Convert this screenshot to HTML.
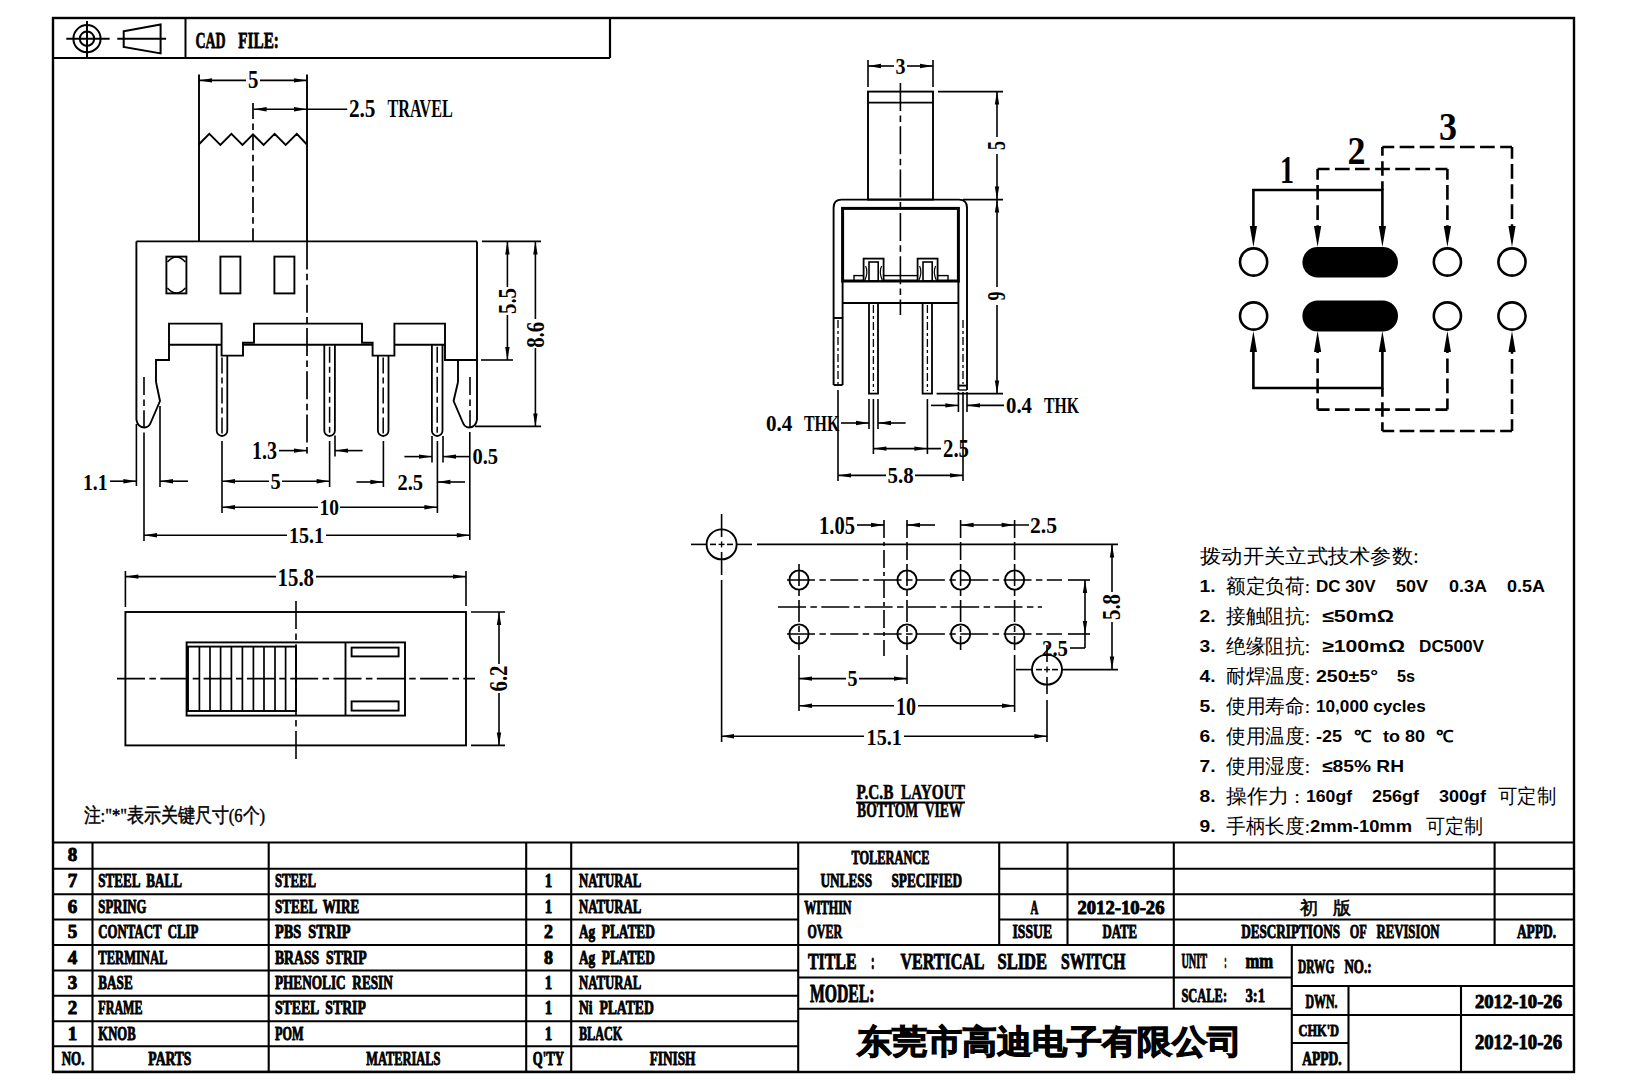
<!DOCTYPE html>
<html><head><meta charset="utf-8"><title>Vertical Slide Switch drawing</title>
<style>
html,body{margin:0;padding:0;background:#fff;width:1630px;height:1087px;overflow:hidden}
svg{display:block}
svg text{fill:#000;white-space:pre}
</style></head><body>
<svg width="1630" height="1087" viewBox="0 0 1630 1087" stroke="#000" fill="none" stroke-linecap="butt" stroke-linejoin="miter">
<rect x="0" y="0" width="1630" height="1087" fill="#fff" stroke="none"/>
<rect x="53" y="18" width="1521" height="1054" stroke-width="2.4" fill="none"/>
<line x1="53" y1="58" x2="610" y2="58" stroke-width="2.2"/>
<line x1="610" y1="18" x2="610" y2="58" stroke-width="2.2"/>
<line x1="185.5" y1="18" x2="185.5" y2="58" stroke-width="2"/>
<circle cx="87" cy="38.7" r="13.6" stroke-width="2" fill="none"/>
<circle cx="87" cy="38.7" r="7.2" stroke-width="2" fill="none"/>
<line x1="66.3" y1="38.7" x2="109.6" y2="38.7" stroke-width="2"/>
<line x1="87" y1="21" x2="87" y2="57" stroke-width="2"/>
<polygon points="123.7,31.3 160.6,24.5 160.6,53.4 123.7,46.9" stroke-width="2" fill="none"/>
<line x1="117.3" y1="38.7" x2="166.1" y2="38.7" stroke-width="2"/>
<text x="195.4" y="47.8" font-size="23.51" font-family='"Liberation Serif", serif' text-anchor="start" font-weight="bold" textLength="30.2" lengthAdjust="spacingAndGlyphs" stroke="#000" stroke-width="0.8" stroke-linejoin="round">CAD</text>
<text x="238.3" y="47.8" font-size="23.51" font-family='"Liberation Serif", serif' text-anchor="start" font-weight="bold" textLength="40.6" lengthAdjust="spacingAndGlyphs" stroke="#000" stroke-width="0.8" stroke-linejoin="round">FILE:</text>
<polyline points="198.7,144.5 209.3,133.8 220.4,144.9 231.4,133.8 242.5,144.9 253,134.4 263.6,144.9 274.6,133.8 285.7,144.9 296.8,133.8 306.9,144.5" stroke-width="1.9" fill="none"/>
<line x1="199" y1="74.5" x2="199" y2="241.4" stroke-width="1.9"/>
<line x1="307" y1="74.5" x2="307" y2="241.4" stroke-width="1.9"/>
<line x1="253" y1="103" x2="253" y2="241.4" stroke-width="1.7" stroke-dasharray="16 4.4 6.5 4.4"/>
<line x1="199" y1="80.4" x2="246" y2="80.4" stroke-width="1.6"/>
<line x1="260" y1="80.4" x2="307" y2="80.4" stroke-width="1.6"/>
<polygon points="199,80.4 212,78.2 212,82.6" fill="#000" stroke="none"/>
<polygon points="307,80.4 294,78.2 294,82.6" fill="#000" stroke="none"/>
<text x="248" y="88.3" font-size="24.27" font-family='"Liberation Serif", serif' text-anchor="start" font-weight="bold" textLength="10.4" lengthAdjust="spacingAndGlyphs" stroke="none">5</text>
<line x1="253.6" y1="109.3" x2="347.2" y2="109.3" stroke-width="1.6"/>
<polygon points="253.6,109.3 266.6,107.1 266.6,111.5" fill="#000" stroke="none"/>
<polygon points="307,109.3 294,107.1 294,111.5" fill="#000" stroke="none"/>
<text x="348.9" y="117.2" font-size="24.43" font-family='"Liberation Serif", serif' text-anchor="start" font-weight="bold" textLength="26.6" lengthAdjust="spacingAndGlyphs" stroke="none">2.5</text>
<text x="387.6" y="117.2" font-size="24.43" font-family='"Liberation Serif", serif' text-anchor="start" font-weight="bold" textLength="65.2" lengthAdjust="spacingAndGlyphs" stroke="none">TRAVEL</text>
<line x1="136.4" y1="241.4" x2="477" y2="241.4" stroke-width="1.9"/>
<line x1="136.4" y1="241.4" x2="136.4" y2="420" stroke-width="1.9"/>
<line x1="477" y1="241.4" x2="477" y2="420" stroke-width="1.9"/>
<rect x="166.4" y="256.6" width="20" height="36.8" stroke-width="1.9" fill="none"/>
<path d="M167.4,262 Q176.4,252 185.4,262 M167.4,288 Q176.4,298 185.4,288" stroke-width="1.5" fill="none"/>
<rect x="220.4" y="256.6" width="20" height="36.8" stroke-width="1.9" fill="none"/>
<rect x="274.4" y="256.6" width="20" height="36.8" stroke-width="1.9" fill="none"/>
<line x1="307" y1="241.4" x2="307" y2="457" stroke-width="1.7" stroke-dasharray="28 4.4 6.5 4.4"/>
<polyline points="156,382 156,360 169,360 169,323.6 221.6,323.6 221.6,355.6 243,355.6 243,342.8 254,342.8 254,323.6 362,323.6 362,342.8 372.6,342.8 372.6,355.6 394.4,355.6 394.4,323.6 445,323.6 445,360 477,360" stroke-width="1.9" fill="none"/>
<line x1="458" y1="360" x2="458" y2="382" stroke-width="1.9"/>
<line x1="169" y1="344.8" x2="221.6" y2="344.8" stroke-width="1.9"/>
<line x1="243" y1="344.8" x2="372.6" y2="344.8" stroke-width="1.9"/>
<line x1="394.4" y1="344.8" x2="445" y2="344.8" stroke-width="1.9"/>
<path d="M216.7,344.8 L216.7,430.7 A5.3,5.3 0 0 0 227.3,430.7 L227.3,355.6" stroke-width="1.8" fill="none"/>
<line x1="222" y1="357.6" x2="222" y2="434" stroke-width="1.5" stroke-dasharray="16 4 6 4"/>
<path d="M324.3,344.8 L324.3,430.7 A5.3,5.3 0 0 0 334.9,430.7 L334.9,344.8" stroke-width="1.8" fill="none"/>
<line x1="329.6" y1="346.8" x2="329.6" y2="434" stroke-width="1.5" stroke-dasharray="16 4 6 4"/>
<path d="M377.9,355.6 L377.9,430.7 A5.3,5.3 0 0 0 388.5,430.7 L388.5,355.6" stroke-width="1.8" fill="none"/>
<line x1="383.2" y1="357.6" x2="383.2" y2="434" stroke-width="1.5" stroke-dasharray="16 4 6 4"/>
<path d="M431.9,344.8 L431.9,430.7 A5.3,5.3 0 0 0 442.5,430.7 L442.5,344.8" stroke-width="1.8" fill="none"/>
<line x1="437.2" y1="346.8" x2="437.2" y2="434" stroke-width="1.5" stroke-dasharray="16 4 6 4"/>
<path d="M136.4,420 Q138,427.5 144.5,427.5 Q149,427.5 151,422 L160,401 L156,382" stroke-width="1.9" fill="none"/>
<path d="M477,420 Q475.4,427.5 469,427.5 Q464.6,427.5 462.6,422 L453.6,401 L458,382" stroke-width="1.9" fill="none"/>
<line x1="144" y1="377" x2="144" y2="428" stroke-width="1.6" stroke-dasharray="18 4.4 6.5 4.4"/>
<line x1="470" y1="377" x2="470" y2="428" stroke-width="1.6" stroke-dasharray="18 4.4 6.5 4.4"/>
<line x1="136.4" y1="424" x2="136.4" y2="486" stroke-width="1.6"/>
<line x1="160" y1="406" x2="160" y2="487" stroke-width="1.6"/>
<line x1="110" y1="481.2" x2="136.4" y2="481.2" stroke-width="1.6"/>
<polygon points="136.4,481.2 123.4,479 123.4,483.4" fill="#000" stroke="none"/>
<line x1="160" y1="481.2" x2="188" y2="481.2" stroke-width="1.6"/>
<polygon points="160,481.2 173,479 173,483.4" fill="#000" stroke="none"/>
<text x="83" y="489.6" font-size="23.21" font-family='"Liberation Serif", serif' text-anchor="start" font-weight="bold" textLength="24.6" lengthAdjust="spacingAndGlyphs" stroke="none">1.1</text>
<line x1="144" y1="432.6" x2="144" y2="541" stroke-width="1.6"/>
<line x1="469.8" y1="432" x2="469.8" y2="540" stroke-width="1.6"/>
<line x1="144" y1="535.2" x2="287" y2="535.2" stroke-width="1.6"/>
<line x1="326" y1="535.2" x2="469.8" y2="535.2" stroke-width="1.6"/>
<polygon points="144,535.2 157,533 157,537.4" fill="#000" stroke="none"/>
<polygon points="469.8,535.2 456.8,533 456.8,537.4" fill="#000" stroke="none"/>
<text x="289" y="543" font-size="23.82" font-family='"Liberation Serif", serif' text-anchor="start" font-weight="bold" textLength="35" lengthAdjust="spacingAndGlyphs" stroke="none">15.1</text>
<line x1="222" y1="441" x2="222" y2="513" stroke-width="1.6"/>
<line x1="329.6" y1="441" x2="329.6" y2="487" stroke-width="1.6"/>
<line x1="383.4" y1="441" x2="383.4" y2="487" stroke-width="1.6"/>
<line x1="437.4" y1="441" x2="437.4" y2="513" stroke-width="1.6"/>
<line x1="222" y1="481.2" x2="269" y2="481.2" stroke-width="1.6"/>
<line x1="282" y1="481.2" x2="329.6" y2="481.2" stroke-width="1.6"/>
<polygon points="222,481.2 235,479 235,483.4" fill="#000" stroke="none"/>
<polygon points="329.6,481.2 316.6,479 316.6,483.4" fill="#000" stroke="none"/>
<text x="270.4" y="489" font-size="23.51" font-family='"Liberation Serif", serif' text-anchor="start" font-weight="bold" textLength="10.2" lengthAdjust="spacingAndGlyphs" stroke="none">5</text>
<line x1="222" y1="507.2" x2="318" y2="507.2" stroke-width="1.6"/>
<line x1="340" y1="507.2" x2="437.4" y2="507.2" stroke-width="1.6"/>
<polygon points="222,507.2 235,505 235,509.4" fill="#000" stroke="none"/>
<polygon points="437.4,507.2 424.4,505 424.4,509.4" fill="#000" stroke="none"/>
<text x="319.6" y="515" font-size="23.82" font-family='"Liberation Serif", serif' text-anchor="start" font-weight="bold" textLength="19.4" lengthAdjust="spacingAndGlyphs" stroke="none">10</text>
<line x1="335" y1="435.6" x2="335" y2="456.6" stroke-width="1.6"/>
<line x1="279" y1="450.6" x2="307" y2="450.6" stroke-width="1.6"/>
<polygon points="307,450.6 294,448.4 294,452.8" fill="#000" stroke="none"/>
<line x1="335" y1="450.6" x2="362.6" y2="450.6" stroke-width="1.6"/>
<polygon points="335,450.6 348,448.4 348,452.8" fill="#000" stroke="none"/>
<text x="252" y="459.4" font-size="25.04" font-family='"Liberation Serif", serif' text-anchor="start" font-weight="bold" textLength="25" lengthAdjust="spacingAndGlyphs" stroke="none">1.3</text>
<line x1="356.4" y1="482" x2="383.4" y2="482" stroke-width="1.6"/>
<polygon points="383.4,482 370.4,479.8 370.4,484.2" fill="#000" stroke="none"/>
<line x1="437.4" y1="482" x2="465" y2="482" stroke-width="1.6"/>
<polygon points="437.4,482 450.4,479.8 450.4,484.2" fill="#000" stroke="none"/>
<text x="397.4" y="490.4" font-size="23.51" font-family='"Liberation Serif", serif' text-anchor="start" font-weight="bold" textLength="25.6" lengthAdjust="spacingAndGlyphs" stroke="none">2.5</text>
<line x1="432" y1="436" x2="432" y2="462.4" stroke-width="1.6"/>
<line x1="443" y1="436" x2="443" y2="462.4" stroke-width="1.6"/>
<line x1="404.4" y1="456.6" x2="432" y2="456.6" stroke-width="1.6"/>
<polygon points="432,456.6 419,454.4 419,458.8" fill="#000" stroke="none"/>
<line x1="443" y1="456.6" x2="469.6" y2="456.6" stroke-width="1.6"/>
<polygon points="443,456.6 456,454.4 456,458.8" fill="#000" stroke="none"/>
<text x="472.4" y="464.4" font-size="23.51" font-family='"Liberation Serif", serif' text-anchor="start" font-weight="bold" textLength="25.6" lengthAdjust="spacingAndGlyphs" stroke="none">0.5</text>
<line x1="482" y1="241.4" x2="541" y2="241.4" stroke-width="1.6"/>
<line x1="481" y1="360" x2="513" y2="360" stroke-width="1.6"/>
<line x1="475" y1="426.4" x2="541" y2="426.4" stroke-width="1.6"/>
<line x1="507.4" y1="241.4" x2="507.4" y2="287" stroke-width="1.6"/>
<line x1="507.4" y1="315" x2="507.4" y2="360" stroke-width="1.6"/>
<polygon points="507.4,241.4 505.2,254.4 509.6,254.4" fill="#000" stroke="none"/>
<polygon points="507.4,360 505.2,347 509.6,347" fill="#000" stroke="none"/>
<text x="515.85" y="301" font-size="25.19" font-family='"Liberation Serif", serif' text-anchor="middle" font-weight="bold" textLength="26" lengthAdjust="spacingAndGlyphs" transform="rotate(-90 515.85 301)" dominant-baseline="auto" stroke="none">5.5</text>
<line x1="535.4" y1="241.4" x2="535.4" y2="319" stroke-width="1.6"/>
<line x1="535.4" y1="348" x2="535.4" y2="426.4" stroke-width="1.6"/>
<polygon points="535.4,241.4 533.2,254.4 537.6,254.4" fill="#000" stroke="none"/>
<polygon points="535.4,426.4 533.2,413.4 537.6,413.4" fill="#000" stroke="none"/>
<text x="543.85" y="334.8" font-size="25.19" font-family='"Liberation Serif", serif' text-anchor="middle" font-weight="bold" textLength="26" lengthAdjust="spacingAndGlyphs" transform="rotate(-90 543.85 334.8)" dominant-baseline="auto" stroke="none">8.6</text>
<line x1="125.4" y1="571" x2="125.4" y2="607" stroke-width="1.6"/>
<line x1="466" y1="571" x2="466" y2="606" stroke-width="1.6"/>
<line x1="125.4" y1="576.6" x2="276" y2="576.6" stroke-width="1.6"/>
<line x1="316" y1="576.6" x2="466" y2="576.6" stroke-width="1.6"/>
<polygon points="125.4,576.6 138.4,574.4 138.4,578.8" fill="#000" stroke="none"/>
<polygon points="466,576.6 453,574.4 453,578.8" fill="#000" stroke="none"/>
<text x="277.6" y="585.6" font-size="24.43" font-family='"Liberation Serif", serif' text-anchor="start" font-weight="bold" textLength="36.4" lengthAdjust="spacingAndGlyphs" stroke="none">15.8</text>
<rect x="125.4" y="612" width="340.6" height="133.4" stroke-width="1.9" fill="none"/>
<line x1="296" y1="601" x2="296" y2="762" stroke-width="1.6" stroke-dasharray="28 4.4 6.5 4.4"/>
<line x1="117" y1="678.6" x2="475" y2="678.6" stroke-width="1.6" stroke-dasharray="28 4.4 6.5 4.4"/>
<rect x="186.6" y="642.4" width="218.4" height="73.2" stroke-width="1.9" fill="none"/>
<rect x="188" y="646.6" width="108" height="64.4" stroke-width="1.9" fill="none"/>
<line x1="199.4" y1="646.6" x2="199.4" y2="711" stroke-width="1.7"/>
<line x1="210" y1="646.6" x2="210" y2="711" stroke-width="1.7"/>
<line x1="220.6" y1="646.6" x2="220.6" y2="711" stroke-width="1.7"/>
<line x1="231.4" y1="646.6" x2="231.4" y2="711" stroke-width="1.7"/>
<line x1="242.4" y1="646.6" x2="242.4" y2="711" stroke-width="1.7"/>
<line x1="253.4" y1="646.6" x2="253.4" y2="711" stroke-width="1.7"/>
<line x1="264" y1="646.6" x2="264" y2="711" stroke-width="1.7"/>
<line x1="275" y1="646.6" x2="275" y2="711" stroke-width="1.7"/>
<line x1="285.6" y1="646.6" x2="285.6" y2="711" stroke-width="1.7"/>
<line x1="345.5" y1="642.4" x2="345.5" y2="715.6" stroke-width="1.9"/>
<rect x="351.6" y="647.6" width="47" height="8.8" stroke-width="1.9" fill="none"/>
<rect x="351.6" y="701.4" width="47" height="9.2" stroke-width="1.9" fill="none"/>
<line x1="471" y1="612" x2="505" y2="612" stroke-width="1.6"/>
<line x1="471" y1="745.4" x2="505" y2="745.4" stroke-width="1.6"/>
<line x1="499" y1="612" x2="499" y2="664" stroke-width="1.6"/>
<line x1="499" y1="693" x2="499" y2="745.4" stroke-width="1.6"/>
<polygon points="499,612 496.8,625 501.2,625" fill="#000" stroke="none"/>
<polygon points="499,745.4 496.8,732.4 501.2,732.4" fill="#000" stroke="none"/>
<text x="507.25" y="678.5" font-size="25.19" font-family='"Liberation Serif", serif' text-anchor="middle" font-weight="bold" textLength="26" lengthAdjust="spacingAndGlyphs" transform="rotate(-90 507.25 678.5)" dominant-baseline="auto" stroke="none">6.2</text>
<text x="83.6" y="822" font-size="19.5" font-family='"Liberation Serif", serif' text-anchor="start" textLength="181.4" lengthAdjust="spacingAndGlyphs" stroke="#000" stroke-width="0.5">注:"*"表示关键尺寸(6个)</text>
<rect x="868" y="91.6" width="65" height="108" stroke-width="1.9" fill="none"/>
<line x1="868" y1="102.6" x2="933" y2="102.6" stroke-width="1.9"/>
<line x1="868" y1="60" x2="868" y2="87" stroke-width="1.6"/>
<line x1="933" y1="60" x2="933" y2="87" stroke-width="1.6"/>
<line x1="868" y1="66" x2="894" y2="66" stroke-width="1.6"/>
<line x1="907" y1="66" x2="933" y2="66" stroke-width="1.6"/>
<polygon points="868,66 881,63.8 881,68.2" fill="#000" stroke="none"/>
<polygon points="933,66 920,63.8 920,68.2" fill="#000" stroke="none"/>
<text x="895.4" y="74" font-size="22.9" font-family='"Liberation Serif", serif' text-anchor="start" font-weight="bold" textLength="10" lengthAdjust="spacingAndGlyphs" stroke="none">3</text>
<line x1="900.4" y1="83" x2="900.4" y2="315" stroke-width="1.6" stroke-dasharray="28 4.4 6.5 4.4"/>
<line x1="938" y1="91.6" x2="1003" y2="91.6" stroke-width="1.6"/>
<line x1="963" y1="199.6" x2="1003" y2="199.6" stroke-width="1.6"/>
<line x1="936.6" y1="393.6" x2="1003" y2="393.6" stroke-width="1.6"/>
<line x1="997" y1="91.6" x2="997" y2="137" stroke-width="1.6"/>
<line x1="997" y1="154" x2="997" y2="199.6" stroke-width="1.6"/>
<polygon points="997,91.6 994.8,104.6 999.2,104.6" fill="#000" stroke="none"/>
<polygon points="997,199.6 994.8,186.6 999.2,186.6" fill="#000" stroke="none"/>
<text x="1005.2" y="145.5" font-size="24.43" font-family='"Liberation Serif", serif' text-anchor="middle" font-weight="bold" textLength="9" lengthAdjust="spacingAndGlyphs" transform="rotate(-90 1005.2 145.5)" dominant-baseline="auto" stroke="none">5</text>
<line x1="997" y1="199.6" x2="997" y2="287" stroke-width="1.6"/>
<line x1="997" y1="305" x2="997" y2="393.6" stroke-width="1.6"/>
<polygon points="997,199.6 994.8,212.6 999.2,212.6" fill="#000" stroke="none"/>
<polygon points="997,393.6 994.8,380.6 999.2,380.6" fill="#000" stroke="none"/>
<text x="1005.2" y="296" font-size="24.43" font-family='"Liberation Serif", serif' text-anchor="middle" font-weight="bold" textLength="9" lengthAdjust="spacingAndGlyphs" transform="rotate(-90 1005.2 296)" dominant-baseline="auto" stroke="none">9</text>
<path d="M833.6,385 L833.6,207.6 Q833.6,199.6 841.6,199.6 L959,199.6 Q967,199.6 967,207.6 L967,390" stroke-width="1.9" fill="none"/>
<rect x="842.6" y="208.4" width="115.8" height="72.6" stroke-width="3" fill="none"/>
<line x1="842.6" y1="303" x2="958.4" y2="303" stroke-width="1.9"/>
<line x1="842.6" y1="281" x2="842.6" y2="385" stroke-width="1.9"/>
<line x1="958.4" y1="281" x2="958.4" y2="390" stroke-width="1.9"/>
<line x1="833.6" y1="318" x2="842.6" y2="318" stroke-width="1.9"/>
<line x1="833.6" y1="385" x2="842.6" y2="385" stroke-width="1.9"/>
<line x1="958.4" y1="385.6" x2="967" y2="385.6" stroke-width="1.9"/>
<line x1="958.4" y1="390" x2="967" y2="390" stroke-width="1.4"/>
<line x1="838" y1="320" x2="838" y2="384" stroke-width="1.3" stroke-dasharray="8 3 3 3"/>
<line x1="963" y1="320" x2="963" y2="384" stroke-width="1.3" stroke-dasharray="8 3 3 3"/>
<rect x="869" y="303" width="9" height="90.6" stroke-width="1.8" fill="none"/>
<rect x="922.6" y="303" width="9.4" height="90.6" stroke-width="1.8" fill="none"/>
<line x1="873.4" y1="305" x2="873.4" y2="391" stroke-width="1.3" stroke-dasharray="8 3 3 3"/>
<line x1="927.4" y1="305" x2="927.4" y2="391" stroke-width="1.3" stroke-dasharray="8 3 3 3"/>
<rect x="854" y="275.6" width="94" height="5.4" stroke-width="1.4" fill="none"/>
<rect x="863.6" y="258.6" width="20" height="22.4" stroke-width="1.8" fill="#fff"/>
<rect x="869" y="262" width="9.2" height="19" stroke-width="1.6" fill="none"/>
<path d="M865.6,266 Q868.6,272 864.6,281 M881.6,266 Q878.6,272 882.6,281" stroke-width="1.2" fill="none"/>
<rect x="917.6" y="258.6" width="20" height="22.4" stroke-width="1.8" fill="#fff"/>
<rect x="923" y="262" width="9.2" height="19" stroke-width="1.6" fill="none"/>
<path d="M919.6,266 Q922.6,272 918.6,281 M935.6,266 Q932.6,272 936.6,281" stroke-width="1.2" fill="none"/>
<line x1="958.4" y1="392" x2="958.4" y2="412" stroke-width="1.6"/>
<line x1="967" y1="392" x2="967" y2="412" stroke-width="1.6"/>
<line x1="931" y1="405.4" x2="958.4" y2="405.4" stroke-width="1.6"/>
<polygon points="958.4,405.4 945.4,403.2 945.4,407.6" fill="#000" stroke="none"/>
<line x1="967" y1="405.4" x2="1004" y2="405.4" stroke-width="1.6"/>
<polygon points="967,405.4 980,403.2 980,407.6" fill="#000" stroke="none"/>
<text x="1006" y="413" font-size="22.9" font-family='"Liberation Serif", serif' text-anchor="start" font-weight="bold" textLength="26" lengthAdjust="spacingAndGlyphs" stroke="none">0.4</text>
<text x="1044" y="413" font-size="22.9" font-family='"Liberation Serif", serif' text-anchor="start" font-weight="bold" textLength="35" lengthAdjust="spacingAndGlyphs" stroke="none">THK</text>
<line x1="838" y1="390" x2="838" y2="481" stroke-width="1.6"/>
<line x1="963" y1="392" x2="963" y2="481" stroke-width="1.6"/>
<line x1="869" y1="399" x2="869" y2="429" stroke-width="1.6"/>
<line x1="878" y1="399" x2="878" y2="429" stroke-width="1.6"/>
<line x1="841" y1="423" x2="869" y2="423" stroke-width="1.6"/>
<polygon points="869,423 856,420.8 856,425.2" fill="#000" stroke="none"/>
<line x1="878" y1="423" x2="905.6" y2="423" stroke-width="1.6"/>
<polygon points="878,423 891,420.8 891,425.2" fill="#000" stroke="none"/>
<text x="766" y="431" font-size="23.51" font-family='"Liberation Serif", serif' text-anchor="start" font-weight="bold" textLength="26.4" lengthAdjust="spacingAndGlyphs" stroke="none">0.4</text>
<text x="804" y="431" font-size="23.51" font-family='"Liberation Serif", serif' text-anchor="start" font-weight="bold" textLength="35.4" lengthAdjust="spacingAndGlyphs" stroke="none">THK</text>
<line x1="873.4" y1="399" x2="873.4" y2="454" stroke-width="1.6"/>
<line x1="927.4" y1="399" x2="927.4" y2="454" stroke-width="1.6"/>
<line x1="873.4" y1="448.6" x2="941" y2="448.6" stroke-width="1.6"/>
<polygon points="873.4,448.6 886.4,446.4 886.4,450.8" fill="#000" stroke="none"/>
<polygon points="927.4,448.6 914.4,446.4 914.4,450.8" fill="#000" stroke="none"/>
<text x="943" y="457" font-size="24.43" font-family='"Liberation Serif", serif' text-anchor="start" font-weight="bold" textLength="26" lengthAdjust="spacingAndGlyphs" stroke="none">2.5</text>
<line x1="838" y1="475.4" x2="886" y2="475.4" stroke-width="1.6"/>
<line x1="915" y1="475.4" x2="963" y2="475.4" stroke-width="1.6"/>
<polygon points="838,475.4 851,473.2 851,477.6" fill="#000" stroke="none"/>
<polygon points="963,475.4 950,473.2 950,477.6" fill="#000" stroke="none"/>
<text x="887.6" y="483" font-size="22.9" font-family='"Liberation Serif", serif' text-anchor="start" font-weight="bold" textLength="26" lengthAdjust="spacingAndGlyphs" stroke="none">5.8</text>
<circle cx="721.6" cy="544.4" r="15" stroke-width="1.9" fill="none"/>
<line x1="718.6" y1="544.4" x2="724.6" y2="544.4" stroke-width="1.4"/>
<line x1="721.6" y1="541.4" x2="721.6" y2="547.4" stroke-width="1.4"/>
<circle cx="1047" cy="669.6" r="15" stroke-width="1.9" fill="none"/>
<line x1="1044" y1="669.6" x2="1050" y2="669.6" stroke-width="1.4"/>
<line x1="1047" y1="666.6" x2="1047" y2="672.6" stroke-width="1.4"/>
<line x1="691" y1="544.4" x2="706" y2="544.4" stroke-width="1.6"/>
<line x1="710" y1="544.4" x2="716" y2="544.4" stroke-width="1.6"/>
<line x1="727" y1="544.4" x2="733" y2="544.4" stroke-width="1.6"/>
<line x1="737" y1="544.4" x2="752" y2="544.4" stroke-width="1.6"/>
<line x1="721.6" y1="514" x2="721.6" y2="537" stroke-width="1.6"/>
<line x1="721.6" y1="552" x2="721.6" y2="575" stroke-width="1.6"/>
<line x1="721.6" y1="580" x2="721.6" y2="742" stroke-width="1.6"/>
<line x1="757" y1="544.4" x2="1118" y2="544.4" stroke-width="1.8"/>
<line x1="1016" y1="669.6" x2="1032" y2="669.6" stroke-width="1.6"/>
<line x1="1036" y1="669.6" x2="1042" y2="669.6" stroke-width="1.6"/>
<line x1="1052" y1="669.6" x2="1058" y2="669.6" stroke-width="1.6"/>
<line x1="1062" y1="669.6" x2="1118" y2="669.6" stroke-width="1.6"/>
<line x1="1047" y1="645" x2="1047" y2="662" stroke-width="1.6"/>
<line x1="1047" y1="677" x2="1047" y2="694" stroke-width="1.6"/>
<line x1="1047" y1="700" x2="1047" y2="742" stroke-width="1.6"/>
<line x1="787" y1="580" x2="1062" y2="580" stroke-width="1.6" stroke-dasharray="28 4.4 6.5 4.4"/>
<line x1="1068" y1="580" x2="1090" y2="580" stroke-width="1.6"/>
<circle cx="799" cy="580" r="9.6" stroke-width="1.9" fill="none"/>
<circle cx="907" cy="580" r="9.6" stroke-width="1.9" fill="none"/>
<circle cx="960.6" cy="580" r="9.6" stroke-width="1.9" fill="none"/>
<circle cx="1014.6" cy="580" r="9.6" stroke-width="1.9" fill="none"/>
<line x1="787" y1="634" x2="1062" y2="634" stroke-width="1.6" stroke-dasharray="28 4.4 6.5 4.4"/>
<line x1="1068" y1="634" x2="1090" y2="634" stroke-width="1.6"/>
<circle cx="799" cy="634" r="9.6" stroke-width="1.9" fill="none"/>
<circle cx="907" cy="634" r="9.6" stroke-width="1.9" fill="none"/>
<circle cx="960.6" cy="634" r="9.6" stroke-width="1.9" fill="none"/>
<circle cx="1014.6" cy="634" r="9.6" stroke-width="1.9" fill="none"/>
<line x1="799" y1="564" x2="799" y2="650" stroke-width="1.6" stroke-dasharray="22 4 6 4"/>
<line x1="907" y1="564" x2="907" y2="650" stroke-width="1.6" stroke-dasharray="22 4 6 4"/>
<line x1="960.6" y1="564" x2="960.6" y2="650" stroke-width="1.6" stroke-dasharray="22 4 6 4"/>
<line x1="1014.6" y1="564" x2="1014.6" y2="650" stroke-width="1.6" stroke-dasharray="22 4 6 4"/>
<line x1="778" y1="607" x2="1042" y2="607" stroke-width="1.6" stroke-dasharray="28 4.4 6.5 4.4"/>
<line x1="799" y1="655" x2="799" y2="711" stroke-width="1.6"/>
<line x1="907" y1="520" x2="907" y2="560" stroke-width="1.6" stroke-dasharray="18 4"/>
<line x1="907" y1="655" x2="907" y2="684" stroke-width="1.6"/>
<line x1="960.6" y1="520" x2="960.6" y2="560" stroke-width="1.6" stroke-dasharray="18 4"/>
<line x1="1014.6" y1="520" x2="1014.6" y2="560" stroke-width="1.6" stroke-dasharray="18 4"/>
<line x1="1014.6" y1="655" x2="1014.6" y2="712" stroke-width="1.6"/>
<line x1="884" y1="520" x2="884" y2="656" stroke-width="1.6" stroke-dasharray="18 4 4 4"/>
<line x1="857" y1="525" x2="884" y2="525" stroke-width="1.6"/>
<polygon points="884,525 871,522.8 871,527.2" fill="#000" stroke="none"/>
<line x1="906.6" y1="525" x2="935" y2="525" stroke-width="1.6"/>
<polygon points="907,525 920,522.8 920,527.2" fill="#000" stroke="none"/>
<text x="819" y="534" font-size="24.43" font-family='"Liberation Serif", serif' text-anchor="start" font-weight="bold" textLength="36" lengthAdjust="spacingAndGlyphs" stroke="none">1.05</text>
<line x1="960.6" y1="525" x2="1029" y2="525" stroke-width="1.6"/>
<polygon points="960.6,525 973.6,522.8 973.6,527.2" fill="#000" stroke="none"/>
<polygon points="1014.6,525 1001.6,522.8 1001.6,527.2" fill="#000" stroke="none"/>
<text x="1030" y="533" font-size="22.9" font-family='"Liberation Serif", serif' text-anchor="start" font-weight="bold" textLength="27" lengthAdjust="spacingAndGlyphs" stroke="none">2.5</text>
<line x1="1085" y1="580" x2="1085" y2="648" stroke-width="1.6"/>
<line x1="1070" y1="648" x2="1085" y2="648" stroke-width="1.6"/>
<polygon points="1085,580 1082.8,593 1087.2,593" fill="#000" stroke="none"/>
<polygon points="1085,634 1082.8,621 1087.2,621" fill="#000" stroke="none"/>
<text x="1042" y="655.6" font-size="23.82" font-family='"Liberation Serif", serif' text-anchor="start" font-weight="bold" textLength="26" lengthAdjust="spacingAndGlyphs" stroke="none">2.5</text>
<line x1="1112" y1="544.4" x2="1112" y2="592" stroke-width="1.6"/>
<line x1="1112" y1="622" x2="1112" y2="669.6" stroke-width="1.6"/>
<polygon points="1112,544.4 1109.8,557.4 1114.2,557.4" fill="#000" stroke="none"/>
<polygon points="1112,669.6 1109.8,656.6 1114.2,656.6" fill="#000" stroke="none"/>
<text x="1120" y="607" font-size="24.43" font-family='"Liberation Serif", serif' text-anchor="middle" font-weight="bold" textLength="26" lengthAdjust="spacingAndGlyphs" transform="rotate(-90 1120 607)" dominant-baseline="auto" stroke="none">5.8</text>
<line x1="799" y1="678.6" x2="846" y2="678.6" stroke-width="1.6"/>
<line x1="859" y1="678.6" x2="907" y2="678.6" stroke-width="1.6"/>
<polygon points="799,678.6 812,676.4 812,680.8" fill="#000" stroke="none"/>
<polygon points="907,678.6 894,676.4 894,680.8" fill="#000" stroke="none"/>
<text x="847.4" y="686" font-size="22.9" font-family='"Liberation Serif", serif' text-anchor="start" font-weight="bold" textLength="10" lengthAdjust="spacingAndGlyphs" stroke="none">5</text>
<line x1="799" y1="705.8" x2="894" y2="705.8" stroke-width="1.6"/>
<line x1="918" y1="705.8" x2="1015" y2="705.8" stroke-width="1.6"/>
<polygon points="799,705.8 812,703.6 812,708" fill="#000" stroke="none"/>
<polygon points="1015,705.8 1002,703.6 1002,708" fill="#000" stroke="none"/>
<text x="896" y="714.7" font-size="24.43" font-family='"Liberation Serif", serif' text-anchor="start" font-weight="bold" textLength="20" lengthAdjust="spacingAndGlyphs" stroke="none">10</text>
<line x1="721" y1="736.2" x2="864" y2="736.2" stroke-width="1.6"/>
<line x1="904" y1="736.2" x2="1047.3" y2="736.2" stroke-width="1.6"/>
<polygon points="721,736.2 734,734 734,738.4" fill="#000" stroke="none"/>
<polygon points="1047.3,736.2 1034.3,734 1034.3,738.4" fill="#000" stroke="none"/>
<text x="866.6" y="744.6" font-size="23.82" font-family='"Liberation Serif", serif' text-anchor="start" font-weight="bold" textLength="35.2" lengthAdjust="spacingAndGlyphs" stroke="none">15.1</text>
<text x="856.6" y="799.3" font-size="21.83" font-family='"Liberation Serif", serif' text-anchor="start" font-weight="bold" textLength="108.3" lengthAdjust="spacingAndGlyphs" stroke="#000" stroke-width="0.6" stroke-linejoin="round">P.C.B  LAYOUT</text>
<line x1="856" y1="802.5" x2="965" y2="802.5" stroke-width="1.8"/>
<text x="857.1" y="817.3" font-size="20.15" font-family='"Liberation Serif", serif' text-anchor="start" font-weight="bold" textLength="105.4" lengthAdjust="spacingAndGlyphs" stroke="#000" stroke-width="0.6" stroke-linejoin="round">BOTTOM  VIEW</text>
<circle cx="1253.6" cy="262" r="13.6" stroke-width="2.6" fill="none"/>
<circle cx="1447.4" cy="262" r="13.6" stroke-width="2.6" fill="none"/>
<circle cx="1512" cy="262" r="13.6" stroke-width="2.6" fill="none"/>
<circle cx="1253.6" cy="316" r="13.6" stroke-width="2.6" fill="none"/>
<circle cx="1447.4" cy="316" r="13.6" stroke-width="2.6" fill="none"/>
<circle cx="1512" cy="316" r="13.6" stroke-width="2.6" fill="none"/>
<rect x="1302.4" y="247" width="95.6" height="30.6" stroke-width="0" fill="#000" rx="15.3"/>
<rect x="1302.4" y="300.6" width="95.6" height="30.8" stroke-width="0" fill="#000" rx="15.4"/>
<polyline points="1253.4,236 1253.4,190 1382.4,190 1382.4,236" stroke-width="2.6" fill="none"/>
<polyline points="1253.4,342 1253.4,388 1382.4,388 1382.4,342" stroke-width="2.6" fill="none"/>
<line x1="1317.6" y1="236" x2="1317.6" y2="169" stroke-width="2.6" stroke-dasharray="10.7 5.4 14.7 5.4 14.7 5.4 10.7 0"/>
<line x1="1317.6" y1="169" x2="1447.4" y2="169" stroke-width="2.6" stroke-dasharray="11.95 5.4 14.7 5.4 14.7 5.4 14.7 5.4 14.7 5.4 14.7 5.4 11.95 0"/>
<line x1="1447.4" y1="169" x2="1447.4" y2="236" stroke-width="2.6" stroke-dasharray="10.7 5.4 14.7 5.4 14.7 5.4 10.7 0"/>
<line x1="1317.6" y1="342" x2="1317.6" y2="409.6" stroke-width="2.6" stroke-dasharray="11 5.4 14.7 5.4 14.7 5.4 11 0"/>
<line x1="1317.6" y1="409.6" x2="1447.4" y2="409.6" stroke-width="2.6" stroke-dasharray="11.95 5.4 14.7 5.4 14.7 5.4 14.7 5.4 14.7 5.4 14.7 5.4 11.95 0"/>
<line x1="1447.4" y1="409.6" x2="1447.4" y2="342" stroke-width="2.6" stroke-dasharray="11 5.4 14.7 5.4 14.7 5.4 11 0"/>
<line x1="1382.4" y1="190" x2="1382.4" y2="147" stroke-width="2.6" stroke-dasharray="8.75 5.4 14.7 5.4 8.75 0"/>
<line x1="1382.4" y1="147" x2="1512" y2="147" stroke-width="2.6" stroke-dasharray="11.85 5.4 14.7 5.4 14.7 5.4 14.7 5.4 14.7 5.4 14.7 5.4 11.85 0"/>
<line x1="1512" y1="147" x2="1512" y2="236" stroke-width="2.6" stroke-dasharray="11.65 5.4 14.7 5.4 14.7 5.4 14.7 5.4 11.65 0"/>
<line x1="1382.4" y1="388" x2="1382.4" y2="431" stroke-width="2.6" stroke-dasharray="8.75 5.4 14.7 5.4 8.75 0"/>
<line x1="1382.4" y1="431" x2="1512" y2="431" stroke-width="2.6" stroke-dasharray="11.85 5.4 14.7 5.4 14.7 5.4 14.7 5.4 14.7 5.4 14.7 5.4 11.85 0"/>
<line x1="1512" y1="431" x2="1512" y2="342" stroke-width="2.6" stroke-dasharray="11.65 5.4 14.7 5.4 14.7 5.4 14.7 5.4 11.65 0"/>
<polygon points="1253.4,247 1249.8,226 1257,226" fill="#000" stroke="none"/>
<polygon points="1253.4,331 1249.8,352 1257,352" fill="#000" stroke="none"/>
<polygon points="1317.6,247 1314,226 1321.2,226" fill="#000" stroke="none"/>
<polygon points="1317.6,331 1314,352 1321.2,352" fill="#000" stroke="none"/>
<polygon points="1382.4,247 1378.8,226 1386,226" fill="#000" stroke="none"/>
<polygon points="1382.4,331 1378.8,352 1386,352" fill="#000" stroke="none"/>
<polygon points="1447.4,247 1443.8,226 1451,226" fill="#000" stroke="none"/>
<polygon points="1447.4,331 1443.8,352 1451,352" fill="#000" stroke="none"/>
<polygon points="1512,247 1508.4,226 1515.6,226" fill="#000" stroke="none"/>
<polygon points="1512,331 1508.4,352 1515.6,352" fill="#000" stroke="none"/>
<text x="1280" y="182.6" font-size="39.08" font-family='"Liberation Serif", serif' text-anchor="start" font-weight="bold" textLength="14" lengthAdjust="spacingAndGlyphs" stroke="none">1</text>
<text x="1347.4" y="164" font-size="39.69" font-family='"Liberation Serif", serif' text-anchor="start" font-weight="bold" textLength="18" lengthAdjust="spacingAndGlyphs" stroke="none">2</text>
<text x="1439" y="140" font-size="39.69" font-family='"Liberation Serif", serif' text-anchor="start" font-weight="bold" textLength="18" lengthAdjust="spacingAndGlyphs" stroke="none">3</text>
<text x="1200" y="563" font-size="20" font-family='"Liberation Serif", serif' text-anchor="start" textLength="219" lengthAdjust="spacingAndGlyphs" stroke="none">拨动开关立式技术参数:</text>
<text x="1199.6" y="592.4" font-size="16.5" font-family='"Liberation Sans", sans-serif' text-anchor="start" font-weight="bold" textLength="16" lengthAdjust="spacingAndGlyphs" stroke="none">1.</text>
<text x="1226" y="593.4" font-size="19.5" font-family='"Liberation Serif", serif' text-anchor="start" textLength="84" lengthAdjust="spacingAndGlyphs" stroke="none">额定负荷:</text>
<text x="1316" y="592.4" font-size="16.5" font-family='"Liberation Sans", sans-serif' text-anchor="start" font-weight="bold" textLength="59.5" lengthAdjust="spacingAndGlyphs" stroke="none">DC 30V</text>
<text x="1396" y="592.4" font-size="16.5" font-family='"Liberation Sans", sans-serif' text-anchor="start" font-weight="bold" textLength="32" lengthAdjust="spacingAndGlyphs" stroke="none">50V</text>
<text x="1449" y="592.4" font-size="16.5" font-family='"Liberation Sans", sans-serif' text-anchor="start" font-weight="bold" textLength="38" lengthAdjust="spacingAndGlyphs" stroke="none">0.3A</text>
<text x="1507" y="592.4" font-size="16.5" font-family='"Liberation Sans", sans-serif' text-anchor="start" font-weight="bold" textLength="38" lengthAdjust="spacingAndGlyphs" stroke="none">0.5A</text>
<text x="1199.6" y="622.4" font-size="16.5" font-family='"Liberation Sans", sans-serif' text-anchor="start" font-weight="bold" textLength="16" lengthAdjust="spacingAndGlyphs" stroke="none">2.</text>
<text x="1226" y="623.4" font-size="19.5" font-family='"Liberation Serif", serif' text-anchor="start" textLength="84" lengthAdjust="spacingAndGlyphs" stroke="none">接触阻抗:</text>
<text x="1322" y="622.4" font-size="16.5" font-family='"Liberation Sans", sans-serif' text-anchor="start" font-weight="bold" textLength="72" lengthAdjust="spacingAndGlyphs" stroke="none">≤50mΩ</text>
<text x="1199.6" y="652.4" font-size="16.5" font-family='"Liberation Sans", sans-serif' text-anchor="start" font-weight="bold" textLength="16" lengthAdjust="spacingAndGlyphs" stroke="none">3.</text>
<text x="1226" y="653.4" font-size="19.5" font-family='"Liberation Serif", serif' text-anchor="start" textLength="84" lengthAdjust="spacingAndGlyphs" stroke="none">绝缘阻抗:</text>
<text x="1322" y="652.4" font-size="16.5" font-family='"Liberation Sans", sans-serif' text-anchor="start" font-weight="bold" textLength="83" lengthAdjust="spacingAndGlyphs" stroke="none">≥100mΩ</text>
<text x="1419" y="652.4" font-size="16.5" font-family='"Liberation Sans", sans-serif' text-anchor="start" font-weight="bold" textLength="65" lengthAdjust="spacingAndGlyphs" stroke="none">DC500V</text>
<text x="1199.6" y="682.4" font-size="16.5" font-family='"Liberation Sans", sans-serif' text-anchor="start" font-weight="bold" textLength="16" lengthAdjust="spacingAndGlyphs" stroke="none">4.</text>
<text x="1226" y="683.4" font-size="19.5" font-family='"Liberation Serif", serif' text-anchor="start" textLength="84" lengthAdjust="spacingAndGlyphs" stroke="none">耐焊温度:</text>
<text x="1316" y="682.4" font-size="16.5" font-family='"Liberation Sans", sans-serif' text-anchor="start" font-weight="bold" textLength="62" lengthAdjust="spacingAndGlyphs" stroke="none">250±5°</text>
<text x="1397" y="682.4" font-size="16.5" font-family='"Liberation Sans", sans-serif' text-anchor="start" font-weight="bold" textLength="18" lengthAdjust="spacingAndGlyphs" stroke="none">5s</text>
<text x="1199.6" y="712.4" font-size="16.5" font-family='"Liberation Sans", sans-serif' text-anchor="start" font-weight="bold" textLength="16" lengthAdjust="spacingAndGlyphs" stroke="none">5.</text>
<text x="1226" y="713.4" font-size="19.5" font-family='"Liberation Serif", serif' text-anchor="start" textLength="84" lengthAdjust="spacingAndGlyphs" stroke="none">使用寿命:</text>
<text x="1316" y="712.4" font-size="16.5" font-family='"Liberation Sans", sans-serif' text-anchor="start" font-weight="bold" textLength="109.7" lengthAdjust="spacingAndGlyphs" stroke="none">10,000 cycles</text>
<text x="1199.6" y="742.4" font-size="16.5" font-family='"Liberation Sans", sans-serif' text-anchor="start" font-weight="bold" textLength="16" lengthAdjust="spacingAndGlyphs" stroke="none">6.</text>
<text x="1226" y="743.4" font-size="19.5" font-family='"Liberation Serif", serif' text-anchor="start" textLength="84" lengthAdjust="spacingAndGlyphs" stroke="none">使用温度:</text>
<text x="1316" y="742.4" font-size="16.5" font-family='"Liberation Sans", sans-serif' text-anchor="start" font-weight="bold" textLength="26" lengthAdjust="spacingAndGlyphs" stroke="none">-25</text>
<text x="1354" y="742.4" font-size="16.5" font-family='"Liberation Sans", sans-serif' text-anchor="start" font-weight="bold" textLength="17" lengthAdjust="spacingAndGlyphs" stroke="none">℃</text>
<text x="1383" y="742.4" font-size="16.5" font-family='"Liberation Sans", sans-serif' text-anchor="start" font-weight="bold" textLength="42" lengthAdjust="spacingAndGlyphs" stroke="none">to 80</text>
<text x="1436" y="742.4" font-size="16.5" font-family='"Liberation Sans", sans-serif' text-anchor="start" font-weight="bold" textLength="17" lengthAdjust="spacingAndGlyphs" stroke="none">℃</text>
<text x="1199.6" y="772.4" font-size="16.5" font-family='"Liberation Sans", sans-serif' text-anchor="start" font-weight="bold" textLength="16" lengthAdjust="spacingAndGlyphs" stroke="none">7.</text>
<text x="1226" y="773.4" font-size="19.5" font-family='"Liberation Serif", serif' text-anchor="start" textLength="84" lengthAdjust="spacingAndGlyphs" stroke="none">使用湿度:</text>
<text x="1322" y="772.4" font-size="16.5" font-family='"Liberation Sans", sans-serif' text-anchor="start" font-weight="bold" textLength="82" lengthAdjust="spacingAndGlyphs" stroke="none">≤85% RH</text>
<text x="1199.6" y="802.4" font-size="16.5" font-family='"Liberation Sans", sans-serif' text-anchor="start" font-weight="bold" textLength="16" lengthAdjust="spacingAndGlyphs" stroke="none">8.</text>
<text x="1226" y="803.4" font-size="19.5" font-family='"Liberation Serif", serif' text-anchor="start" textLength="74" lengthAdjust="spacingAndGlyphs" stroke="none">操作力 :</text>
<text x="1306" y="802.4" font-size="16.5" font-family='"Liberation Sans", sans-serif' text-anchor="start" font-weight="bold" textLength="46" lengthAdjust="spacingAndGlyphs" stroke="none">160gf</text>
<text x="1372" y="802.4" font-size="16.5" font-family='"Liberation Sans", sans-serif' text-anchor="start" font-weight="bold" textLength="47" lengthAdjust="spacingAndGlyphs" stroke="none">256gf</text>
<text x="1439" y="802.4" font-size="16.5" font-family='"Liberation Sans", sans-serif' text-anchor="start" font-weight="bold" textLength="47" lengthAdjust="spacingAndGlyphs" stroke="none">300gf</text>
<text x="1498" y="803.4" font-size="19.5" font-family='"Liberation Serif", serif' text-anchor="start" textLength="58" lengthAdjust="spacingAndGlyphs" stroke="none">可定制</text>
<text x="1199.6" y="832.4" font-size="16.5" font-family='"Liberation Sans", sans-serif' text-anchor="start" font-weight="bold" textLength="16" lengthAdjust="spacingAndGlyphs" stroke="none">9.</text>
<text x="1226" y="833.4" font-size="19.5" font-family='"Liberation Serif", serif' text-anchor="start" textLength="84" lengthAdjust="spacingAndGlyphs" stroke="none">手柄长度:</text>
<text x="1310" y="832.4" font-size="16.5" font-family='"Liberation Sans", sans-serif' text-anchor="start" font-weight="bold" textLength="102" lengthAdjust="spacingAndGlyphs" stroke="none">2mm-10mm</text>
<text x="1426" y="833.4" font-size="19.5" font-family='"Liberation Serif", serif' text-anchor="start" textLength="57" lengthAdjust="spacingAndGlyphs" stroke="none">可定制</text>
<line x1="53" y1="842.5" x2="798.2" y2="842.5" stroke-width="2.1"/>
<line x1="53" y1="868.7" x2="798.2" y2="868.7" stroke-width="2.1"/>
<line x1="53" y1="894.2" x2="798.2" y2="894.2" stroke-width="2.1"/>
<line x1="53" y1="919.5" x2="798.2" y2="919.5" stroke-width="2.1"/>
<line x1="53" y1="945" x2="798.2" y2="945" stroke-width="2.1"/>
<line x1="53" y1="970.5" x2="798.2" y2="970.5" stroke-width="2.1"/>
<line x1="53" y1="995.8" x2="798.2" y2="995.8" stroke-width="2.1"/>
<line x1="53" y1="1021.2" x2="798.2" y2="1021.2" stroke-width="2.1"/>
<line x1="53" y1="1046.3" x2="798.2" y2="1046.3" stroke-width="2.1"/>
<line x1="53" y1="1071.7" x2="798.2" y2="1071.7" stroke-width="2.1"/>
<line x1="92.5" y1="842.5" x2="92.5" y2="1071.7" stroke-width="2.1"/>
<line x1="268.7" y1="842.5" x2="268.7" y2="1071.7" stroke-width="2.1"/>
<line x1="526.2" y1="842.5" x2="526.2" y2="1071.7" stroke-width="2.1"/>
<line x1="571.2" y1="842.5" x2="571.2" y2="1071.7" stroke-width="2.1"/>
<line x1="798.2" y1="842.5" x2="798.2" y2="1071.7" stroke-width="2.1"/>
<line x1="798.2" y1="842.5" x2="1574" y2="842.5" stroke-width="2.1"/>
<line x1="798.2" y1="894.2" x2="1574" y2="894.2" stroke-width="2.1"/>
<line x1="798.2" y1="945" x2="1574" y2="945" stroke-width="2.1"/>
<line x1="999.2" y1="868.7" x2="1574" y2="868.7" stroke-width="2.1"/>
<line x1="999.2" y1="919.5" x2="1574" y2="919.5" stroke-width="2.1"/>
<line x1="999.2" y1="842.5" x2="999.2" y2="945" stroke-width="2.1"/>
<line x1="1067.5" y1="842.5" x2="1067.5" y2="945" stroke-width="2.1"/>
<line x1="1173.8" y1="842.5" x2="1173.8" y2="1008.7" stroke-width="2.1"/>
<line x1="1494.6" y1="842.5" x2="1494.6" y2="945" stroke-width="2.1"/>
<line x1="798.2" y1="977.5" x2="1291.8" y2="977.5" stroke-width="2.1"/>
<line x1="798.2" y1="1008.7" x2="1291.8" y2="1008.7" stroke-width="2.1"/>
<line x1="1291.8" y1="945" x2="1291.8" y2="1071.7" stroke-width="2.1"/>
<line x1="1291.8" y1="986" x2="1574" y2="986" stroke-width="2.1"/>
<line x1="1291.8" y1="1015" x2="1574" y2="1015" stroke-width="2.1"/>
<line x1="1291.8" y1="1043" x2="1348.5" y2="1043" stroke-width="2.1"/>
<line x1="1348.5" y1="986" x2="1348.5" y2="1071.7" stroke-width="2.1"/>
<line x1="1461" y1="986" x2="1461" y2="1071.7" stroke-width="2.1"/>
<text x="72.5" y="861.15" font-size="18.13" font-family='"Liberation Serif", serif' text-anchor="middle" font-weight="bold" textLength="9.5" lengthAdjust="spacingAndGlyphs" stroke="#000" stroke-width="0.9" stroke-linejoin="round">8</text>
<text x="72.5" y="887.35" font-size="18.13" font-family='"Liberation Serif", serif' text-anchor="middle" font-weight="bold" textLength="9.5" lengthAdjust="spacingAndGlyphs" stroke="#000" stroke-width="0.9" stroke-linejoin="round">7</text>
<text x="98.35" y="887.35" font-size="18.4" font-family='"Liberation Serif", serif' text-anchor="start" font-weight="bold" textLength="83.5" lengthAdjust="spacingAndGlyphs" stroke="#000" stroke-width="0.9" stroke-linejoin="round">STEEL  BALL</text>
<text x="274.95" y="887.35" font-size="18.4" font-family='"Liberation Serif", serif' text-anchor="start" font-weight="bold" textLength="41.2" lengthAdjust="spacingAndGlyphs" stroke="#000" stroke-width="0.9" stroke-linejoin="round">STEEL</text>
<text x="548.5" y="887.35" font-size="18.13" font-family='"Liberation Serif", serif' text-anchor="middle" font-weight="bold" textLength="7.5" lengthAdjust="spacingAndGlyphs" stroke="#000" stroke-width="0.9" stroke-linejoin="round">1</text>
<text x="578.95" y="887.35" font-size="18.4" font-family='"Liberation Serif", serif' text-anchor="start" font-weight="bold" textLength="62.3" lengthAdjust="spacingAndGlyphs" stroke="#000" stroke-width="0.9" stroke-linejoin="round">NATURAL</text>
<text x="72.5" y="912.85" font-size="18.13" font-family='"Liberation Serif", serif' text-anchor="middle" font-weight="bold" textLength="9.5" lengthAdjust="spacingAndGlyphs" stroke="#000" stroke-width="0.9" stroke-linejoin="round">6</text>
<text x="98.35" y="912.85" font-size="18.4" font-family='"Liberation Serif", serif' text-anchor="start" font-weight="bold" textLength="48.1" lengthAdjust="spacingAndGlyphs" stroke="#000" stroke-width="0.9" stroke-linejoin="round">SPRING</text>
<text x="274.95" y="912.85" font-size="18.4" font-family='"Liberation Serif", serif' text-anchor="start" font-weight="bold" textLength="84.2" lengthAdjust="spacingAndGlyphs" stroke="#000" stroke-width="0.9" stroke-linejoin="round">STEEL  WIRE</text>
<text x="548.5" y="912.85" font-size="18.13" font-family='"Liberation Serif", serif' text-anchor="middle" font-weight="bold" textLength="7.5" lengthAdjust="spacingAndGlyphs" stroke="#000" stroke-width="0.9" stroke-linejoin="round">1</text>
<text x="578.95" y="912.85" font-size="18.4" font-family='"Liberation Serif", serif' text-anchor="start" font-weight="bold" textLength="62.3" lengthAdjust="spacingAndGlyphs" stroke="#000" stroke-width="0.9" stroke-linejoin="round">NATURAL</text>
<text x="72.5" y="938.15" font-size="18.13" font-family='"Liberation Serif", serif' text-anchor="middle" font-weight="bold" textLength="9.5" lengthAdjust="spacingAndGlyphs" stroke="#000" stroke-width="0.9" stroke-linejoin="round">5</text>
<text x="98.35" y="938.15" font-size="18.4" font-family='"Liberation Serif", serif' text-anchor="start" font-weight="bold" textLength="100" lengthAdjust="spacingAndGlyphs" stroke="#000" stroke-width="0.9" stroke-linejoin="round">CONTACT  CLIP</text>
<text x="274.95" y="938.15" font-size="18.4" font-family='"Liberation Serif", serif' text-anchor="start" font-weight="bold" textLength="75.5" lengthAdjust="spacingAndGlyphs" stroke="#000" stroke-width="0.9" stroke-linejoin="round">PBS  STRIP</text>
<text x="548.5" y="938.15" font-size="18.13" font-family='"Liberation Serif", serif' text-anchor="middle" font-weight="bold" textLength="9" lengthAdjust="spacingAndGlyphs" stroke="#000" stroke-width="0.9" stroke-linejoin="round">2</text>
<text x="578.95" y="938.15" font-size="18.4" font-family='"Liberation Serif", serif' text-anchor="start" font-weight="bold" textLength="75.8" lengthAdjust="spacingAndGlyphs" stroke="#000" stroke-width="0.9" stroke-linejoin="round">Ag  PLATED</text>
<text x="72.5" y="963.65" font-size="18.13" font-family='"Liberation Serif", serif' text-anchor="middle" font-weight="bold" textLength="9.5" lengthAdjust="spacingAndGlyphs" stroke="#000" stroke-width="0.9" stroke-linejoin="round">4</text>
<text x="98.35" y="963.65" font-size="18.4" font-family='"Liberation Serif", serif' text-anchor="start" font-weight="bold" textLength="69" lengthAdjust="spacingAndGlyphs" stroke="#000" stroke-width="0.9" stroke-linejoin="round">TERMINAL</text>
<text x="274.95" y="963.65" font-size="18.4" font-family='"Liberation Serif", serif' text-anchor="start" font-weight="bold" textLength="91.6" lengthAdjust="spacingAndGlyphs" stroke="#000" stroke-width="0.9" stroke-linejoin="round">BRASS  STRIP</text>
<text x="548.5" y="963.65" font-size="18.13" font-family='"Liberation Serif", serif' text-anchor="middle" font-weight="bold" textLength="9" lengthAdjust="spacingAndGlyphs" stroke="#000" stroke-width="0.9" stroke-linejoin="round">8</text>
<text x="578.95" y="963.65" font-size="18.4" font-family='"Liberation Serif", serif' text-anchor="start" font-weight="bold" textLength="75.8" lengthAdjust="spacingAndGlyphs" stroke="#000" stroke-width="0.9" stroke-linejoin="round">Ag  PLATED</text>
<text x="72.5" y="989.15" font-size="18.13" font-family='"Liberation Serif", serif' text-anchor="middle" font-weight="bold" textLength="9.5" lengthAdjust="spacingAndGlyphs" stroke="#000" stroke-width="0.9" stroke-linejoin="round">3</text>
<text x="98.35" y="989.15" font-size="18.4" font-family='"Liberation Serif", serif' text-anchor="start" font-weight="bold" textLength="34.3" lengthAdjust="spacingAndGlyphs" stroke="#000" stroke-width="0.9" stroke-linejoin="round">BASE</text>
<text x="274.95" y="989.15" font-size="18.4" font-family='"Liberation Serif", serif' text-anchor="start" font-weight="bold" textLength="117.9" lengthAdjust="spacingAndGlyphs" stroke="#000" stroke-width="0.9" stroke-linejoin="round">PHENOLIC  RESIN</text>
<text x="548.5" y="989.15" font-size="18.13" font-family='"Liberation Serif", serif' text-anchor="middle" font-weight="bold" textLength="7.5" lengthAdjust="spacingAndGlyphs" stroke="#000" stroke-width="0.9" stroke-linejoin="round">1</text>
<text x="578.95" y="989.15" font-size="18.4" font-family='"Liberation Serif", serif' text-anchor="start" font-weight="bold" textLength="62.3" lengthAdjust="spacingAndGlyphs" stroke="#000" stroke-width="0.9" stroke-linejoin="round">NATURAL</text>
<text x="72.5" y="1014.45" font-size="18.13" font-family='"Liberation Serif", serif' text-anchor="middle" font-weight="bold" textLength="9.5" lengthAdjust="spacingAndGlyphs" stroke="#000" stroke-width="0.9" stroke-linejoin="round">2</text>
<text x="98.35" y="1014.45" font-size="18.4" font-family='"Liberation Serif", serif' text-anchor="start" font-weight="bold" textLength="44.1" lengthAdjust="spacingAndGlyphs" stroke="#000" stroke-width="0.9" stroke-linejoin="round">FRAME</text>
<text x="274.95" y="1014.45" font-size="18.4" font-family='"Liberation Serif", serif' text-anchor="start" font-weight="bold" textLength="90.9" lengthAdjust="spacingAndGlyphs" stroke="#000" stroke-width="0.9" stroke-linejoin="round">STEEL  STRIP</text>
<text x="548.5" y="1014.45" font-size="18.13" font-family='"Liberation Serif", serif' text-anchor="middle" font-weight="bold" textLength="7.5" lengthAdjust="spacingAndGlyphs" stroke="#000" stroke-width="0.9" stroke-linejoin="round">1</text>
<text x="578.95" y="1014.45" font-size="18.4" font-family='"Liberation Serif", serif' text-anchor="start" font-weight="bold" textLength="74.8" lengthAdjust="spacingAndGlyphs" stroke="#000" stroke-width="0.9" stroke-linejoin="round">Ni  PLATED</text>
<text x="72.5" y="1039.85" font-size="18.13" font-family='"Liberation Serif", serif' text-anchor="middle" font-weight="bold" textLength="9.5" lengthAdjust="spacingAndGlyphs" stroke="#000" stroke-width="0.9" stroke-linejoin="round">1</text>
<text x="98.35" y="1039.85" font-size="18.4" font-family='"Liberation Serif", serif' text-anchor="start" font-weight="bold" textLength="37.3" lengthAdjust="spacingAndGlyphs" stroke="#000" stroke-width="0.9" stroke-linejoin="round">KNOB</text>
<text x="274.95" y="1039.85" font-size="18.4" font-family='"Liberation Serif", serif' text-anchor="start" font-weight="bold" textLength="28.5" lengthAdjust="spacingAndGlyphs" stroke="#000" stroke-width="0.9" stroke-linejoin="round">POM</text>
<text x="548.5" y="1039.85" font-size="18.13" font-family='"Liberation Serif", serif' text-anchor="middle" font-weight="bold" textLength="7.5" lengthAdjust="spacingAndGlyphs" stroke="#000" stroke-width="0.9" stroke-linejoin="round">1</text>
<text x="578.95" y="1039.85" font-size="18.4" font-family='"Liberation Serif", serif' text-anchor="start" font-weight="bold" textLength="43.3" lengthAdjust="spacingAndGlyphs" stroke="#000" stroke-width="0.9" stroke-linejoin="round">BLACK</text>
<text x="61.65" y="1065.25" font-size="18.4" font-family='"Liberation Serif", serif' text-anchor="start" font-weight="bold" textLength="22.8" lengthAdjust="spacingAndGlyphs" stroke="#000" stroke-width="0.9" stroke-linejoin="round">NO.</text>
<text x="148.35" y="1065.25" font-size="18.4" font-family='"Liberation Serif", serif' text-anchor="start" font-weight="bold" textLength="43" lengthAdjust="spacingAndGlyphs" stroke="#000" stroke-width="0.9" stroke-linejoin="round">PARTS</text>
<text x="366.25" y="1065.25" font-size="18.4" font-family='"Liberation Serif", serif' text-anchor="start" font-weight="bold" textLength="74.1" lengthAdjust="spacingAndGlyphs" stroke="#000" stroke-width="0.9" stroke-linejoin="round">MATERIALS</text>
<text x="532.75" y="1065.25" font-size="18.4" font-family='"Liberation Serif", serif' text-anchor="start" font-weight="bold" textLength="31.1" lengthAdjust="spacingAndGlyphs" stroke="#000" stroke-width="0.9" stroke-linejoin="round">Q'TY</text>
<text x="649.65" y="1065.25" font-size="18.4" font-family='"Liberation Serif", serif' text-anchor="start" font-weight="bold" textLength="45.8" lengthAdjust="spacingAndGlyphs" stroke="#000" stroke-width="0.9" stroke-linejoin="round">FINISH</text>
<text x="851.45" y="863.55" font-size="19.16" font-family='"Liberation Serif", serif' text-anchor="start" font-weight="bold" textLength="78.1" lengthAdjust="spacingAndGlyphs" stroke="#000" stroke-width="0.9" stroke-linejoin="round">TOLERANCE</text>
<text x="820.45" y="886.55" font-size="19.62" font-family='"Liberation Serif", serif' text-anchor="start" font-weight="bold" textLength="51.6" lengthAdjust="spacingAndGlyphs" stroke="#000" stroke-width="0.9" stroke-linejoin="round">UNLESS</text>
<text x="891.45" y="886.55" font-size="19.62" font-family='"Liberation Serif", serif' text-anchor="start" font-weight="bold" textLength="70.6" lengthAdjust="spacingAndGlyphs" stroke="#000" stroke-width="0.9" stroke-linejoin="round">SPECIFIED</text>
<text x="804.15" y="914.05" font-size="18.4" font-family='"Liberation Serif", serif' text-anchor="start" font-weight="bold" textLength="47.4" lengthAdjust="spacingAndGlyphs" stroke="#000" stroke-width="0.9" stroke-linejoin="round">WITHIN</text>
<text x="807.45" y="937.55" font-size="19.16" font-family='"Liberation Serif", serif' text-anchor="start" font-weight="bold" textLength="34.6" lengthAdjust="spacingAndGlyphs" stroke="#000" stroke-width="0.9" stroke-linejoin="round">OVER</text>
<text x="1030.45" y="914.05" font-size="18.4" font-family='"Liberation Serif", serif' text-anchor="start" font-weight="bold" textLength="7.8" lengthAdjust="spacingAndGlyphs" stroke="#000" stroke-width="0.9" stroke-linejoin="round">A</text>
<text x="1077.45" y="914.05" font-size="18.4" font-family='"Liberation Serif", serif' text-anchor="start" font-weight="bold" textLength="87.1" lengthAdjust="spacingAndGlyphs" stroke="#000" stroke-width="0.9" stroke-linejoin="round">2012-10-26</text>
<text x="1012.45" y="937.55" font-size="19.16" font-family='"Liberation Serif", serif' text-anchor="start" font-weight="bold" textLength="39.6" lengthAdjust="spacingAndGlyphs" stroke="#000" stroke-width="0.9" stroke-linejoin="round">ISSUE</text>
<text x="1102.45" y="937.55" font-size="19.16" font-family='"Liberation Serif", serif' text-anchor="start" font-weight="bold" textLength="34.6" lengthAdjust="spacingAndGlyphs" stroke="#000" stroke-width="0.9" stroke-linejoin="round">DATE</text>
<text x="1300" y="913.5" font-size="18" font-family='"Liberation Serif", serif' text-anchor="start" stroke="#000" stroke-width="0.6">初</text>
<text x="1332.5" y="913.5" font-size="18" font-family='"Liberation Serif", serif' text-anchor="start" stroke="#000" stroke-width="0.6">版</text>
<text x="1241.15" y="938.25" font-size="19.16" font-family='"Liberation Serif", serif' text-anchor="start" font-weight="bold" textLength="98.9" lengthAdjust="spacingAndGlyphs" stroke="#000" stroke-width="0.9" stroke-linejoin="round">DESCRIPTIONS</text>
<text x="1349.75" y="938.25" font-size="19.16" font-family='"Liberation Serif", serif' text-anchor="start" font-weight="bold" textLength="17.1" lengthAdjust="spacingAndGlyphs" stroke="#000" stroke-width="0.9" stroke-linejoin="round">OF</text>
<text x="1376.45" y="938.25" font-size="19.16" font-family='"Liberation Serif", serif' text-anchor="start" font-weight="bold" textLength="63.1" lengthAdjust="spacingAndGlyphs" stroke="#000" stroke-width="0.9" stroke-linejoin="round">REVISION</text>
<text x="1516.95" y="938.25" font-size="19.16" font-family='"Liberation Serif", serif' text-anchor="start" font-weight="bold" textLength="39.1" lengthAdjust="spacingAndGlyphs" stroke="#000" stroke-width="0.9" stroke-linejoin="round">APPD.</text>
<text x="807.95" y="968.55" font-size="22.21" font-family='"Liberation Serif", serif' text-anchor="start" font-weight="bold" textLength="48.6" lengthAdjust="spacingAndGlyphs" stroke="#000" stroke-width="0.9" stroke-linejoin="round">TITLE</text>
<text x="870.95" y="968.55" font-size="22.21" font-family='"Liberation Serif", serif' text-anchor="start" font-weight="bold" textLength="3.6" lengthAdjust="spacingAndGlyphs" stroke="#000" stroke-width="0.9" stroke-linejoin="round">:</text>
<text x="900.45" y="968.55" font-size="22.21" font-family='"Liberation Serif", serif' text-anchor="start" font-weight="bold" textLength="84.1" lengthAdjust="spacingAndGlyphs" stroke="#000" stroke-width="0.9" stroke-linejoin="round">VERTICAL</text>
<text x="997.45" y="968.55" font-size="22.21" font-family='"Liberation Serif", serif' text-anchor="start" font-weight="bold" textLength="49.6" lengthAdjust="spacingAndGlyphs" stroke="#000" stroke-width="0.9" stroke-linejoin="round">SLIDE</text>
<text x="1060.95" y="968.55" font-size="22.21" font-family='"Liberation Serif", serif' text-anchor="start" font-weight="bold" textLength="64.6" lengthAdjust="spacingAndGlyphs" stroke="#000" stroke-width="0.9" stroke-linejoin="round">SWITCH</text>
<text x="809.95" y="1002.05" font-size="24.5" font-family='"Liberation Serif", serif' text-anchor="start" font-weight="bold" textLength="64.6" lengthAdjust="spacingAndGlyphs" stroke="#000" stroke-width="0.9" stroke-linejoin="round">MODEL:</text>
<text x="856.5" y="1052.5" font-size="33" font-family='"Liberation Sans", sans-serif' text-anchor="start" font-weight="bold" textLength="386" lengthAdjust="spacingAndGlyphs" stroke="#000" stroke-width="1.1">东莞市高迪电子有限公司</text>
<text x="1181.45" y="968.25" font-size="20.23" font-family='"Liberation Serif", serif' text-anchor="start" font-weight="bold" textLength="25.6" lengthAdjust="spacingAndGlyphs" stroke="#000" stroke-width="0.9" stroke-linejoin="round">UNIT</text>
<text x="1224.15" y="968.25" font-size="20.23" font-family='"Liberation Serif", serif' text-anchor="start" font-weight="bold" textLength="2.4" lengthAdjust="spacingAndGlyphs" stroke="#000" stroke-width="0.9" stroke-linejoin="round">:</text>
<text x="1245.45" y="968.25" font-size="20.23" font-family='"Liberation Serif", serif' text-anchor="start" font-weight="bold" textLength="27.7" lengthAdjust="spacingAndGlyphs" stroke="#000" stroke-width="0.9" stroke-linejoin="round">mm</text>
<text x="1181.45" y="1001.55" font-size="19.62" font-family='"Liberation Serif", serif' text-anchor="start" font-weight="bold" textLength="45.6" lengthAdjust="spacingAndGlyphs" stroke="#000" stroke-width="0.9" stroke-linejoin="round">SCALE:</text>
<text x="1245.45" y="1001.55" font-size="19.62" font-family='"Liberation Serif", serif' text-anchor="start" font-weight="bold" textLength="19.7" lengthAdjust="spacingAndGlyphs" stroke="#000" stroke-width="0.9" stroke-linejoin="round">3:1</text>
<text x="1297.95" y="972.55" font-size="18.4" font-family='"Liberation Serif", serif' text-anchor="start" font-weight="bold" textLength="36.4" lengthAdjust="spacingAndGlyphs" stroke="#000" stroke-width="0.9" stroke-linejoin="round">DRWG</text>
<text x="1344.45" y="972.55" font-size="18.4" font-family='"Liberation Serif", serif' text-anchor="start" font-weight="bold" textLength="27.1" lengthAdjust="spacingAndGlyphs" stroke="#000" stroke-width="0.9" stroke-linejoin="round">NO.:</text>
<text x="1305.45" y="1008.25" font-size="18.7" font-family='"Liberation Serif", serif' text-anchor="start" font-weight="bold" textLength="32.1" lengthAdjust="spacingAndGlyphs" stroke="#000" stroke-width="0.9" stroke-linejoin="round">DWN.</text>
<text x="1474.95" y="1008.25" font-size="18.7" font-family='"Liberation Serif", serif' text-anchor="start" font-weight="bold" textLength="87.1" lengthAdjust="spacingAndGlyphs" stroke="#000" stroke-width="0.9" stroke-linejoin="round">2012-10-26</text>
<text x="1298.45" y="1035.55" font-size="16.87" font-family='"Liberation Serif", serif' text-anchor="start" font-weight="bold" textLength="40.6" lengthAdjust="spacingAndGlyphs" stroke="#000" stroke-width="0.9" stroke-linejoin="round">CHK'D</text>
<text x="1302.15" y="1064.55" font-size="18.4" font-family='"Liberation Serif", serif' text-anchor="start" font-weight="bold" textLength="39.4" lengthAdjust="spacingAndGlyphs" stroke="#000" stroke-width="0.9" stroke-linejoin="round">APPD.</text>
<text x="1474.95" y="1049.05" font-size="19.92" font-family='"Liberation Serif", serif' text-anchor="start" font-weight="bold" textLength="87.1" lengthAdjust="spacingAndGlyphs" stroke="#000" stroke-width="0.9" stroke-linejoin="round">2012-10-26</text>
</svg>
</body></html>
